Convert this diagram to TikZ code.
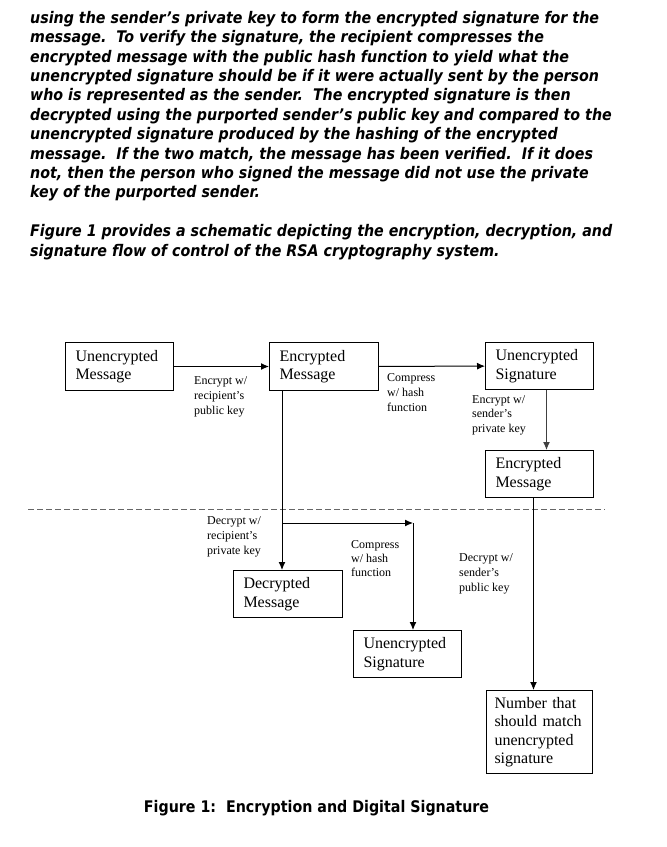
\documentclass[tikz,border=0pt]{standalone}
\usepackage{fontspec}
\setmainfont{Liberation Serif}
\newfontfamily\bodyfont[FakeStretch=0.89]{DejaVu Sans}
\usetikzlibrary{arrows.meta}

\begin{document}
\begin{tikzpicture}[x=1pt, y=-1pt,
  box/.style={draw, line width=1pt, align=left, inner xsep=10pt, inner ysep=0pt,
    text width=88pt, minimum height=48pt, anchor=north west,
    font=\fontsize{16}{18.4}\selectfont},
  lbl/.style={align=left, inner sep=0pt, anchor=north west,
    font=\fontsize{12}{15}\selectfont},
  >={Latex[length=8pt,width=7pt]}]
  \useasboundingbox (0,0) rectangle (667,847);
  % Text above the figure
  \node[align=left, inner sep=0pt, anchor=north west,
    font=\bodyfont\bfseries\itshape\fontsize{16}{19.4}\selectfont] (intro) at (30,11)
    {using the sender’s private key to form the encrypted signature for the\\
     message.\ \ To verify the signature, the recipient compresses the\\
     encrypted message with the public hash function to yield what the\\
     unencrypted signature should be if it were actually sent by the person\\
     who is represented as the sender.\ \ The encrypted signature is then\\
     decrypted using the purported sender’s public key and compared to the\\
     unencrypted signature produced by the hashing of the encrypted\\
     message.\ \ If the two match, the message has been verified.\ \ If it does\\
     not, then the person who signed the message did not use the private\\
     key of the purported sender.\\[19.4pt]
     Figure 1 provides a schematic depicting the encryption, decryption, and\\
     signature flow of control of the RSA cryptography system.};
  % Sender side
  \node[box] (umsg) at (65,342)  {Unencrypted\\Message};
  \node[box, text width=89pt] (emsg) at (269,342) {Encrypted\\Message};
  \node[box, minimum height=47pt] (usig) at (485,342) {Unencrypted\\Signature};
  \node[box, minimum height=47pt] (esig) at (485,450) {Encrypted\\Message};
  % Recipient side
  \node[box, text width=89pt, minimum height=47pt] (dmsg) at (233,570) {Decrypted\\Message};
  \node[box, minimum height=47pt] (vsig) at (353,630) {Unencrypted\\Signature};
  \node[box, inner xsep=8pt, text width=90pt, minimum height=83pt] (cmp) at (486,690)
    {Number that\\should match\\unencrypted\\signature};
  % Labels
  \node[lbl] (l1) at (194,376.5) {Encrypt w/\\recipient’s\\public key};
  \node[lbl] (l2) at (387,373.5) {Compress\\w/ hash\\function};
  \node[lbl, font=\fontsize{12}{14.2}\selectfont] (l3) at (472,395.5) {Encrypt w/\\sender’s\\private key};
  \node[lbl] (l4) at (207,516.5) {Decrypt w/\\recipient’s\\private key};
  \node[lbl, font=\fontsize{12}{14}\selectfont] (l5) at (351,540.5) {Compress\\w/ hash\\function};
  \node[lbl] (l6) at (459,553.5) {Decrypt w/\\sender’s\\public key};
  % Divider
  \draw[black!60, line width=1pt, dash pattern=on 6pt off 3pt] (28,509.5) -- (605,509.5);
  % Flow
  \coordinate (drop) at ([xshift=-42pt]emsg.south);
  \coordinate (split) at (drop |- 0,523);
  \coordinate (turn) at (413,523);
  \draw[->, line width=1pt] (umsg) -- (emsg);
  \draw[->, line width=1pt] (emsg) -- (usig);
  \draw[->, line width=1pt, black!75] ([xshift=7pt]usig.south) -- ([xshift=7pt]esig.north);
  \draw[->, line width=1pt] ([xshift=-6pt]esig.south) -- ([xshift=-6pt]esig.south |- cmp.north);
  \draw[->, line width=1pt] (drop) -- (drop |- dmsg.north);
  \draw[->, line width=1pt] (split) -- (turn);
  \draw[->, line width=1pt] (turn) -- (turn |- vsig.north);
  % Caption
  \node[anchor=base, inner sep=0pt, font=\bodyfont\bfseries\fontsize{16}{19}\selectfont] (cap)
    at (316.5,812.5) {Figure 1:\ \ Encryption and Digital Signature};
\end{tikzpicture}
\end{document}
